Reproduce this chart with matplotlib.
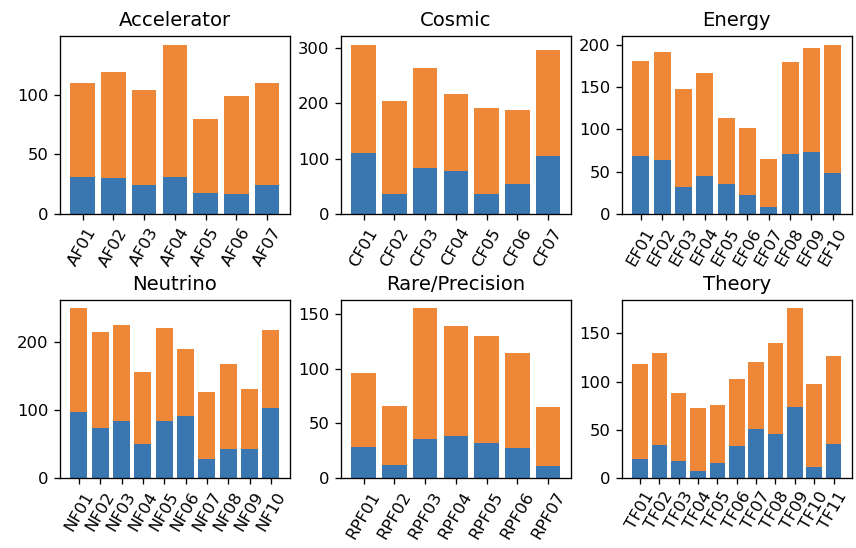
import matplotlib
matplotlib.use("Agg")
import matplotlib.pyplot as plt
import numpy as np

# Data: total heights and blue (bottom) part per category
acc_labels = ["AF01", "AF02", "AF03", "AF04", "AF05", "AF06", "AF07"]
acc_total = [110, 119, 104, 142, 80, 99, 110]
acc_blue = [31, 30, 24, 31, 18, 17, 24]

cos_labels = ["CF01", "CF02", "CF03", "CF04", "CF05", "CF06", "CF07"]
cos_total = [306, 204, 263, 217, 192, 188, 296]
cos_blue = [111, 37, 84, 78, 37, 55, 104]

ene_labels = ["EF01", "EF02", "EF03", "EF04", "EF05", "EF06", "EF07", "EF08", "EF09", "EF10"]
ene_total = [181, 191, 148, 166, 113, 102, 65, 180, 196, 200]
ene_blue = [68, 64, 32, 45, 35, 23, 8, 71, 73, 48]

neu_labels = ["NF01", "NF02", "NF03", "NF04", "NF05", "NF06", "NF07", "NF08", "NF09", "NF10"]
neu_total = [249, 214, 225, 156, 220, 190, 126, 168, 131, 218]
neu_blue = [97, 73, 84, 50, 84, 91, 27, 43, 42, 102]

rpf_labels = ["RPF01", "RPF02", "RPF03", "RPF04", "RPF05", "RPF06", "RPF07"]
rpf_total = [96, 66, 155, 139, 130, 114, 65]
rpf_blue = [28, 12, 36, 38, 32, 27, 11]

thy_labels = ["TF01", "TF02", "TF03", "TF04", "TF05", "TF06", "TF07", "TF08", "TF09", "TF10", "TF11"]
thy_total = [118, 130, 88, 73, 76, 103, 120, 140, 176, 98, 127]
thy_blue = [20, 34, 17, 7, 15, 33, 51, 46, 74, 11, 35]

panels = [
    ("Accelerator", acc_labels, acc_total, acc_blue),
    ("Cosmic", cos_labels, cos_total, cos_blue),
    ("Energy", ene_labels, ene_total, ene_blue),
    ("Neutrino", neu_labels, neu_total, neu_blue),
    ("Rare/Precision", rpf_labels, rpf_total, rpf_blue),
    ("Theory", thy_labels, thy_total, thy_blue),
]

BLUE = "#3a76b0"
ORANGE = "#ee8738"

DPI = 118
fig, axes = plt.subplots(2, 3, figsize=(856 / DPI, 548 / DPI), dpi=DPI)
fig.subplots_adjust(left=0.070, right=0.995, top=0.934, bottom=0.128,
                    wspace=0.222, hspace=0.483)

for ax, (title, labels, total, blue) in zip(axes.flat, panels):
    total = np.array(total)
    blue = np.array(blue)
    ax.bar(labels, blue, color=BLUE)
    ax.bar(labels, total - blue, bottom=blue, color=ORANGE)
    ax.set_title(title)
    ax.tick_params(axis="x", labelrotation=60)

fig.savefig("out.png", dpi=DPI)
